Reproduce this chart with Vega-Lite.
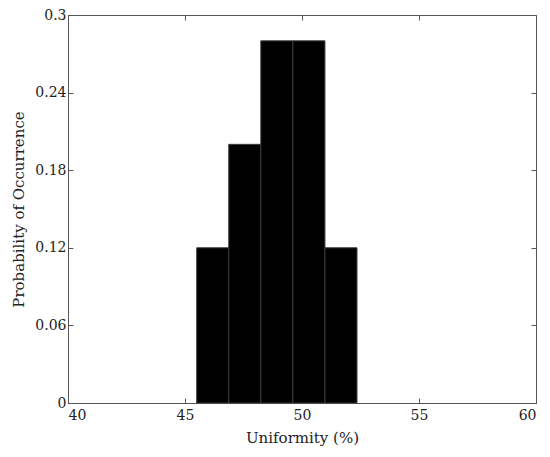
{
  "$schema": "https://vega.github.io/schema/vega-lite/v6.json",
  "width": 468,
  "height": 388,
  "autosize": "none",
  "padding": {"left": 68, "top": 15, "right": 14, "bottom": 54},
  "background": "white",
  "config": {
    "view": {"stroke": null},
    "font": "DejaVu Serif",
    "axis": {
      "labelFont": "DejaVu Serif",
      "titleFont": "DejaVu Serif",
      "labelFontSize": 14,
      "titleFontSize": 15,
      "titleFontWeight": "normal",
      "labelColor": "#222",
      "titleColor": "#222",
      "domainColor": "#555",
      "tickColor": "#555",
      "grid": false,
      "tickSize": -5
    }
  },
  "data": {
    "values": [
      {"lo": 45.5, "hi": 46.87, "p": 0.12},
      {"lo": 46.87, "hi": 48.24, "p": 0.20},
      {"lo": 48.24, "hi": 49.61, "p": 0.28},
      {"lo": 49.61, "hi": 50.98, "p": 0.28},
      {"lo": 50.98, "hi": 52.35, "p": 0.12}
    ]
  },
  "layer": [
    {
      "mark": {"type": "rect", "color": "black", "stroke": "#3a3a3a", "strokeWidth": 1},
      "encoding": {
        "x": {
          "field": "lo", "type": "quantitative",
          "scale": {"domain": [40, 60], "nice": false, "zero": false},
          "axis": {"values": [40, 45, 50, 55, 60], "title": "Uniformity (%)", "labelPadding": 10, "titlePadding": 8}
        },
        "x2": {"field": "hi"},
        "y": {
          "field": "p", "type": "quantitative",
          "scale": {"domain": [0, 0.3], "nice": false},
          "axis": {"values": [0, 0.06, 0.12, 0.18, 0.24, 0.3], "format": "~g", "title": "Probability of Occurrence", "labelPadding": 7, "titlePadding": 8}
        },
        "y2": {"datum": 0}
      }
    },
    {
      "mark": {"type": "rect", "opacity": 0},
      "encoding": {
        "x": {
          "field": "lo", "type": "quantitative",
          "scale": {"domain": [40, 60], "nice": false, "zero": false},
          "axis": {"orient": "top", "values": [40, 45, 50, 55, 60], "labels": false, "title": null}
        },
        "x2": {"field": "hi"},
        "y": {
          "field": "p", "type": "quantitative",
          "scale": {"domain": [0, 0.3], "nice": false},
          "axis": {"orient": "right", "values": [0, 0.06, 0.12, 0.18, 0.24, 0.3], "labels": false, "title": null}
        },
        "y2": {"datum": 0}
      }
    }
  ],
  "resolve": {"axis": {"x": "independent", "y": "independent"}}
}
